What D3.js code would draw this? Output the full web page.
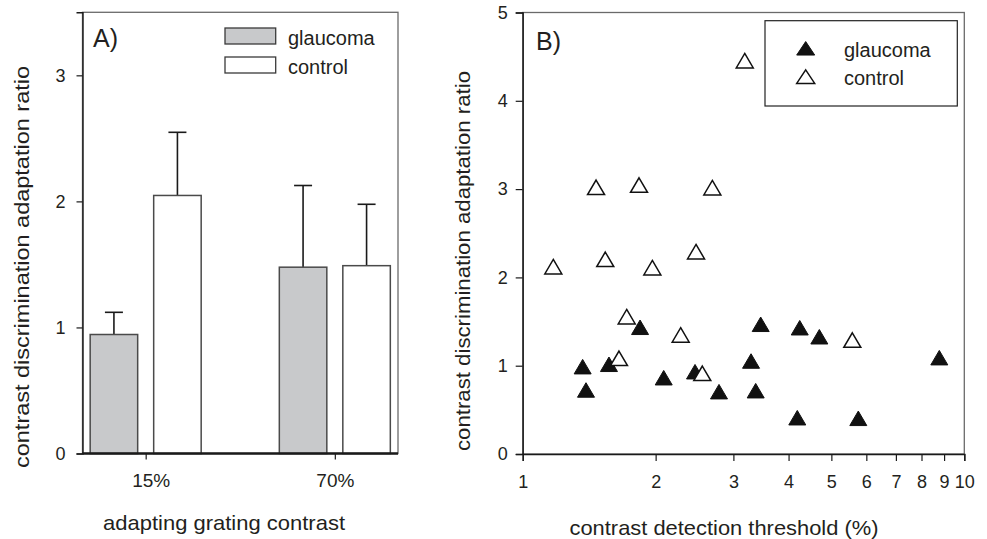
<!DOCTYPE html>
<html><head><meta charset="utf-8">
<script src="https://cdn.jsdelivr.net/npm/d3@7"></script>
<style>
body{margin:0;background:#fff}
text{font-family:"Liberation Sans",Arial,Helvetica,sans-serif;fill:#231f20}
</style>
</head><body>
<svg id="c" width="987" height="539"></svg>
<script>
// ---------- Panel A data ----------
const categories = ["15%", "70%"];
const seriesNames = ["glaucoma", "control"];
const glaucomaMean = [0.944, 1.478];
const glaucomaErr  = [0.176, 0.648];
const controlMean  = [2.047, 1.490];
const controlErr   = [0.501, 0.487];
const yTicksA = [0, 1, 2, 3];

// ---------- Panel B data ----------
const glaucomaX = [1.367, 1.391, 1.568, 1.844, 2.086, 2.456, 2.783, 3.289, 3.370, 3.459, 4.240, 4.186, 4.696, 5.754, 8.778];
const glaucomaY = [0.989, 0.725, 1.016, 1.435, 0.864, 0.932, 0.706, 1.053, 0.717, 1.469, 1.430, 0.411, 1.328, 0.404, 1.091];
const controlX  = [3.183, 1.466, 1.834, 2.688, 2.469, 1.538, 1.173, 1.966, 1.720, 1.652, 2.279, 2.551, 5.577];
const controlY  = [4.454, 3.020, 3.046, 3.016, 2.291, 2.205, 2.121, 2.110, 1.555, 1.084, 1.348, 0.914, 1.291];
const xTicksB = [1, 2, 3, 4, 5, 6, 7, 8, 9, 10];
const yTicksB = [0, 1, 2, 3, 4, 5];

const yTitle = "contrast discrimination adaptation ratio";

const svg = d3.select("#c");
const frameColor = "#6a6a6a";
const ink = "#1a1a1a";

// ================= Panel A =================
const A = {l: 82.5, r: 398, t: 12.3, b: 453.5};
const yA = d3.scaleLinear().domain([0, 3.5]).range([A.b, A.t]);
const xA = d3.scalePoint().domain(categories).range([A.l, A.r]).padding(0.334);
const xSub = d3.scaleBand().domain(seriesNames).range([-55.5, 55.5]).paddingInner(0.252);

const gA = svg.append("g");
gA.append("rect").attr("x", A.l).attr("y", A.t).attr("width", A.r - A.l).attr("height", A.b - A.t)
  .attr("fill", "none").attr("stroke", frameColor).attr("stroke-width", 1.3);

const barData = [];
categories.forEach((c, i) => {
  barData.push({cat: c, s: "glaucoma", v: glaucomaMean[i], e: glaucomaErr[i]});
  barData.push({cat: c, s: "control", v: controlMean[i], e: controlErr[i]});
});
const fillOf = {glaucoma: "#c8c9cb", control: "#ffffff"};

// error bars
const eb = gA.append("g").attr("stroke", ink).attr("stroke-width", 1.6);
barData.forEach(d => {
  const cx = xA(d.cat) + xSub(d.s) + xSub.bandwidth() / 2;
  eb.append("line").attr("x1", cx).attr("x2", cx).attr("y1", yA(d.v)).attr("y2", yA(d.v + d.e));
  eb.append("line").attr("x1", cx - 9).attr("x2", cx + 9).attr("y1", yA(d.v + d.e)).attr("y2", yA(d.v + d.e));
});
gA.append("g").selectAll("rect").data(barData).join("rect")
  .attr("x", d => xA(d.cat) + xSub(d.s))
  .attr("width", xSub.bandwidth())
  .attr("y", d => yA(d.v))
  .attr("height", d => yA(0) - yA(d.v))
  .attr("fill", d => fillOf[d.s])
  .attr("stroke", "#4a4a4a").attr("stroke-width", 1.5);

// axes A
const axLA = gA.append("g").attr("transform", `translate(${A.l},0)`)
  .call(d3.axisLeft(yA).tickValues(yTicksA).tickSize(6).tickPadding(11).tickFormat(d3.format("d")));
axLA.select(".domain").attr("stroke", ink).attr("stroke-width", 1.4);
axLA.selectAll(".tick line").attr("stroke", ink).attr("stroke-width", 1.2);
axLA.selectAll("text").style("font-size", "18px").attr("fill", "#231f20");

const axBA = gA.append("g").attr("transform", `translate(0,${A.b})`)
  .call(d3.axisBottom(xA).tickSize(6).tickSizeOuter(0));
axBA.select(".domain").attr("stroke", ink).attr("stroke-width", 2.6).attr("d", `M${A.l},0H${A.r}`);
axBA.selectAll(".tick line").attr("stroke", ink).attr("stroke-width", 1.2);
axBA.selectAll("text").style("font-size", "19px").attr("y", 33).attr("dy", 0)
  .attr("dx", (d, i) => i === 0 ? 5 : 0).attr("fill", "#231f20");

// legend A
const legA = gA.append("g");
seriesNames.forEach((s, i) => {
  legA.append("rect").attr("x", 225).attr("y", 28 + i * 29).attr("width", 50.7).attr("height", 16)
    .attr("fill", fillOf[s]).attr("stroke", "#3a3a3a").attr("stroke-width", 1.3);
  legA.append("text").attr("x", 288).attr("y", 45 + i * 29).style("font-size", "20px").text(s);
});
gA.append("text").attr("x", 93).attr("y", 47).style("font-size", "25px").text("A)");

// titles A
gA.append("text").attr("x", 224).attr("y", 530).attr("text-anchor", "middle")
  .style("font-size", "21px").attr("textLength", 242).attr("lengthAdjust", "spacingAndGlyphs")
  .text("adapting grating contrast");
gA.append("text").attr("transform", "translate(29,267) rotate(-90)").attr("text-anchor", "middle")
  .style("font-size", "21px").attr("textLength", 402).attr("lengthAdjust", "spacingAndGlyphs")
  .text(yTitle);

// ================= Panel B =================
const B = {l: 522.7, r: 964.3, t: 12.5, b: 454};
const xB = d3.scaleLog().domain([1, 10]).range([B.l, B.r]);
const yB = d3.scaleLinear().domain([0, 5]).range([B.b, B.t]);
const gB = svg.append("g");
gB.append("rect").attr("x", B.l).attr("y", B.t).attr("width", B.r - B.l).attr("height", B.b - B.t)
  .attr("fill", "none").attr("stroke", frameColor).attr("stroke-width", 1.3);

const axLB = gB.append("g").attr("transform", `translate(${B.l},0)`)
  .call(d3.axisLeft(yB).tickValues(yTicksB).tickSize(7).tickPadding(8).tickFormat(d3.format("d")));
axLB.select(".domain").attr("stroke", ink).attr("stroke-width", 1.4);
axLB.selectAll(".tick line").attr("stroke", ink).attr("stroke-width", 1.2);
axLB.selectAll("text").style("font-size", "18px").attr("fill", "#231f20");

const axBB = gB.append("g").attr("transform", `translate(0,${B.b})`)
  .call(d3.axisBottom(xB).tickValues(xTicksB).tickSize(7).tickFormat(d3.format("d")));
axBB.select(".domain").attr("stroke", ink).attr("stroke-width", 1.4);
axBB.selectAll(".tick line").attr("stroke", ink).attr("stroke-width", 1.2);
axBB.selectAll("text").style("font-size", "18px").attr("y", 34).attr("dy", 0).attr("fill", "#231f20");

const tri = (w, h) => `M0,${-h / 2}L${w / 2},${h / 2}L${-w / 2},${h / 2}Z`;
const triPath = tri(17, 14.5);

const gPts = gB.append("g");
gPts.selectAll(".g").data(glaucomaX.map((x, i) => [x, glaucomaY[i]])).join("path")
  .attr("transform", d => `translate(${xB(d[0])},${yB(d[1])})`)
  .attr("d", triPath).attr("fill", "#111").attr("stroke", "#111").attr("stroke-width", 1);
gPts.selectAll(".c").data(controlX.map((x, i) => [x, controlY[i]])).join("path")
  .attr("transform", d => `translate(${xB(d[0])},${yB(d[1])})`)
  .attr("d", triPath).attr("fill", "#fff").attr("stroke", "#111").attr("stroke-width", 1.5);

// legend B
const legB = gB.append("g");
legB.append("rect").attr("x", 765).attr("y", 20.7).attr("width", 192.3).attr("height", 85.3)
  .attr("fill", "#fff").attr("stroke", "#222").attr("stroke-width", 1.2);
seriesNames.forEach((s, i) => {
  legB.append("path").attr("transform", `translate(805.7,${48.3 + i * 28.4})`).attr("d", tri(18, 13.5))
    .attr("fill", s === "glaucoma" ? "#111" : "#fff").attr("stroke", "#111").attr("stroke-width", s === "glaucoma" ? 1 : 1.5);
  legB.append("text").attr("x", 844).attr("y", 57 + i * 28.4).style("font-size", "20px").text(s);
});
gB.append("text").attr("x", 536).attr("y", 50).style("font-size", "25px").text("B)");

gB.append("text").attr("x", 724).attr("y", 534.5).attr("text-anchor", "middle")
  .style("font-size", "21px").attr("textLength", 309).attr("lengthAdjust", "spacingAndGlyphs")
  .text("contrast detection threshold (%)");
gB.append("text").attr("transform", "translate(470,261) rotate(-90)").attr("text-anchor", "middle")
  .style("font-size", "21px").attr("textLength", 380).attr("lengthAdjust", "spacingAndGlyphs")
  .text(yTitle);
</script>
</body></html>
